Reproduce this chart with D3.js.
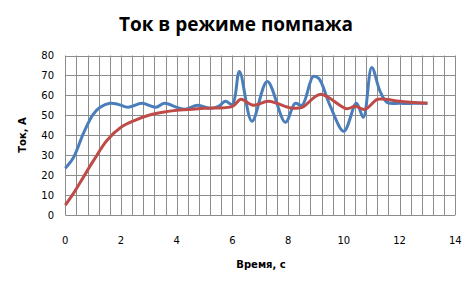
<!DOCTYPE html>
<html>
<head>
<meta charset="utf-8">
<script src="https://cdn.jsdelivr.net/npm/d3@7"></script>
<style>
  body { margin: 0; background: #fff; }
  svg { display: block; }
</style>
</head>
<body>
<script>
// measured current (blue) and model current (red)
var tMeasured = [0, 0.3, 0.65, 1.0, 1.25, 1.6, 1.9, 2.25, 2.75, 3.25, 3.55, 4.0, 4.3, 4.75, 5.2, 5.5, 5.75, 6.0, 6.25, 6.7, 7.25, 7.9, 8.25, 8.5, 8.9, 9.1, 9.5, 10.0, 10.45, 10.7, 11.0, 11.3, 11.55, 12.0, 12.5, 13.0];
var iMeasured = [23.5, 29, 41, 50.5, 54, 56, 55.5, 54, 56, 54, 56, 54, 53, 55, 53.5, 54.5, 57, 55.5, 72, 47, 67, 46.5, 56, 55, 69.5, 68.5, 55, 42, 56, 49, 74, 62, 56.5, 56, 56, 56];
var tModel = [0, 0.3, 0.65, 1.0, 1.5, 2.0, 2.5, 3.0, 3.5, 4.0, 5.0, 6.0, 6.3, 6.75, 7.3, 8.1, 8.5, 9.15, 10.1, 10.4, 10.75, 11.2, 11.5, 12.0, 13.0];
var iModel = [5, 11, 19, 27, 37.5, 44, 47.5, 50, 51.5, 52.5, 53.5, 54.5, 58, 55, 57, 53.7, 54, 60.5, 53.3, 54.5, 53, 58, 58, 57, 56];
var xTicks = [0, 2, 4, 6, 8, 10, 12, 14];
var yTicks = [0, 10, 20, 30, 40, 50, 60, 70, 80];

var width = 470, height = 282;
var x = d3.scaleLinear().domain([0, 14]).range([65.3, 455.3]);
var y = d3.scaleLinear().domain([0, 80]).range([215, 55.5]);

var svg = d3.select("body").append("svg")
    .attr("width", width)
    .attr("height", height);

svg.append("text")
    .attr("x", 236).attr("y", 31)
    .attr("text-anchor", "middle")
    .style("font-family", "'Open Sans', sans-serif")
    .style("font-weight", "bold")
    .style("font-size", "19px")
    .text("Ток в режиме помпажа");

// grid: vertical every 0.4, horizontal every 10
var vGrid = d3.range(0, 14.001, 0.4);
svg.append("g").selectAll("line").data(vGrid).enter().append("line")
    .attr("x1", d => Math.round(x(d)) + 0.5).attr("x2", d => Math.round(x(d)) + 0.5)
    .attr("y1", y(80)).attr("y2", y(0))
    .attr("stroke", "#8c8c8c").attr("stroke-width", 1);
svg.append("g").selectAll("line").data(yTicks).enter().append("line")
    .attr("x1", x(0)).attr("x2", x(14))
    .attr("y1", d => Math.round(y(d)) + 0.5).attr("y2", d => Math.round(y(d)) + 0.5)
    .attr("stroke", "#8c8c8c").attr("stroke-width", 1);

var tickFont = "'DejaVu Sans', Verdana, sans-serif";
svg.append("g").selectAll("text").data(yTicks).enter().append("text")
    .attr("x", 54).attr("y", d => y(d) + 3.5)
    .attr("text-anchor", "end")
    .style("font-family", tickFont).style("font-size", "10px")
    .text(d => d);
svg.append("g").selectAll("text").data(xTicks).enter().append("text")
    .attr("x", d => x(d)).attr("y", 244)
    .attr("text-anchor", "middle")
    .style("font-family", tickFont).style("font-size", "10px")
    .text(d => d);

svg.append("text")
    .attr("x", 261).attr("y", 268)
    .attr("text-anchor", "middle")
    .style("font-family", tickFont).style("font-weight", "bold").style("font-size", "10px")
    .text("Время, с");
svg.append("text")
    .attr("transform", "translate(26,135) rotate(-90)")
    .attr("text-anchor", "middle")
    .style("font-family", tickFont).style("font-weight", "bold").style("font-size", "10px")
    .text("Ток, А");

var line = d3.line()
    .x(d => x(d[0])).y(d => y(d[1]))
    .curve(d3.curveCatmullRom.alpha(0.5));

svg.append("path")
    .datum(d3.zip(tMeasured, iMeasured))
    .attr("d", line)
    .attr("fill", "none").attr("stroke", "#4a7ebb").attr("stroke-width", 3)
    .attr("stroke-linejoin", "round");
svg.append("path")
    .datum(d3.zip(tModel, iModel))
    .attr("d", line)
    .attr("fill", "none").attr("stroke", "#be4b48").attr("stroke-width", 3)
    .attr("stroke-linejoin", "round");
</script>
</body>
</html>
